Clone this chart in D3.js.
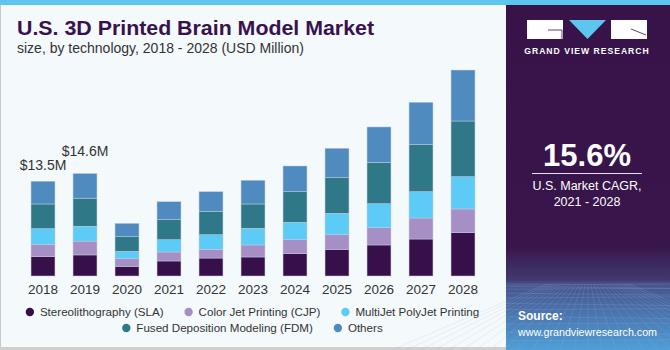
<!DOCTYPE html>
<html>
<head>
<meta charset="utf-8">
<script src="https://cdn.jsdelivr.net/npm/d3@7"></script>
<style>
  body { margin: 0; background: #fff; }
  svg { display: block; font-family: "Liberation Sans", Arial, sans-serif; }
</style>
</head>
<body>
<svg id="chart" width="670" height="350"></svg>
<script>
// data, USD million
var years = ["2018", "2019", "2020", "2021", "2022", "2023", "2024", "2025", "2026", "2027", "2028"];
var seriesNames = ["Stereolithography (SLA)", "Color Jet Printing (CJP)", "MultiJet PolyJet Printing",
                   "Fused Deposition Modeling (FDM)", "Others"];
var sla    = [2.75, 3.00, 1.38, 2.14, 2.56, 2.71, 3.18, 3.80, 4.42, 5.27, 6.17];
var cjp    = [1.71, 1.97, 1.08, 1.28, 1.24, 1.71, 1.99, 2.08, 2.46, 2.99, 3.38];
var mjp    = [2.28, 2.12, 1.05, 1.75, 2.08, 2.38, 2.48, 3.05, 3.42, 3.75, 4.60];
var fdm    = [3.52, 4.00, 2.08, 2.85, 3.28, 3.46, 4.36, 5.07, 5.90, 6.70, 7.93];
var others = [3.24, 3.51, 1.91, 2.56, 2.85, 3.38, 3.66, 4.19, 5.03, 6.04, 7.26];
var seriesColors = ["#37104a", "#a58fc4", "#5ccbf5", "#2f7888", "#4f8bbf"];
var valueLabels = [{year: "2018", text: "$13.5M"}, {year: "2019", text: "$14.6M"}];
var cagr = "15.6%";

var svg = d3.select("#chart");
var W = 670, H = 350;

// background
svg.append("rect").attr("width", W).attr("height", H).attr("fill", "#f4f9fc");
svg.append("rect").attr("x", 0).attr("y", 0).attr("width", 1).attr("height", H).attr("fill", "#c9c9c9");
svg.append("rect").attr("x", 0).attr("y", 347).attr("width", 506).attr("height", 3).attr("fill", "#cfcfcf");

// titles
svg.append("text").attr("x", 17).attr("y", 35)
    .attr("font-size", 20).attr("font-weight", "bold").attr("fill", "#39124d")
    .attr("textLength", 357).attr("lengthAdjust", "spacingAndGlyphs")
    .text("U.S. 3D Printed Brain Model Market");
svg.append("text").attr("x", 17).attr("y", 53)
    .attr("font-size", 14).attr("fill", "#333")
    .text("size, by technology, 2018 - 2028 (USD Million)");

// stack the series
var table = years.map(function (y, i) {
    return {year: y, s0: sla[i], s1: cjp[i], s2: mjp[i], s3: fdm[i], s4: others[i]};
});
var keys = ["s0", "s1", "s2", "s3", "s4"];
var stacked = d3.stack().keys(keys)(table);

var x = d3.scaleBand().domain(years).range([22, 484]).paddingInner(0.43).paddingOuter(0.215);
var y = d3.scaleLinear().domain([0, 30]).range([276, 65.4]);

var g = svg.append("g");
g.selectAll("g.layer")
    .data(stacked)
    .enter()
    .append("g")
    .attr("class", "layer")
    .attr("fill", function (d, i) { return seriesColors[i]; })
    .selectAll("rect")
    .data(function (d) { return d; })
    .enter()
    .append("rect")
    .attr("x", function (d) { return x(d.data.year); })
    .attr("y", function (d) { return y(d[1]); })
    .attr("width", x.bandwidth())
    .attr("height", function (d) { return y(d[0]) - y(d[1]); })
    .attr("stroke", "#c3cbe0")
    .attr("stroke-width", 0.5);

// year axis
var xAxis = svg.append("g").attr("transform", "translate(0,276)")
    .call(d3.axisBottom(x).tickSize(0).tickPadding(8));
xAxis.select(".domain").remove();
xAxis.selectAll("text").attr("font-size", 13.5).attr("fill", "#333")
    .attr("font-family", "Liberation Sans, Arial, sans-serif");

// value labels
var totals = table.map(function (d) { return d.s0 + d.s1 + d.s2 + d.s3 + d.s4; });
var labelLift = [11, 18];
valueLabels.forEach(function (l, i) {
    var idx = years.indexOf(l.year);
    svg.append("text")
        .attr("x", x(l.year) + x.bandwidth() / 2)
        .attr("y", y(totals[idx]) - labelLift[i])
        .attr("text-anchor", "middle")
        .attr("font-size", 14).attr("fill", "#333")
        .text(l.text);
});

// legend, two centered rows
var rows = [[0, 1, 2], [3, 4]];
var rowY = [312, 328];
rows.forEach(function (row, r) {
    var lg = svg.append("g");
    var cx = 0;
    row.forEach(function (si, k) {
        var item = lg.append("g").attr("transform", "translate(" + cx + ",0)");
        item.append("circle").attr("cx", 4).attr("cy", 0).attr("r", 4.2).attr("fill", seriesColors[si]);
        var t = item.append("text").attr("x", 14).attr("y", 4.2)
            .attr("font-size", 11.6).attr("fill", "#333").text(seriesNames[si]);
        cx += 14 + t.node().getComputedTextLength() + 21;
    });
    var width = cx - 21;
    lg.attr("transform", "translate(" + (252.5 - width / 2) + "," + rowY[r] + ")");
});

// right panel
var defs = svg.append("defs");
var grad = defs.append("linearGradient").attr("id", "panelGrad")
    .attr("x1", 0).attr("y1", 0).attr("x2", 0).attr("y2", 1);
grad.append("stop").attr("offset", "0").attr("stop-color", "#371349");
grad.append("stop").attr("offset", "0.7").attr("stop-color", "#38154b");
grad.append("stop").attr("offset", "0.8").attr("stop-color", "#41396f");
grad.append("stop").attr("offset", "0.81").attr("stop-color", "#47528a");
grad.append("stop").attr("offset", "1").attr("stop-color", "#4f9fd8");

var px = 506;
svg.append("rect").attr("x", px).attr("y", 0).attr("width", W - px).attr("height", H)
    .attr("fill", "url(#panelGrad)");

// faint perspective grid at panel bottom
var grid = svg.append("g").attr("stroke", "#9fb8e6").attr("stroke-opacity", 0.3)
    .attr("stroke-width", 0.6).attr("fill", "none");
var gridRows = d3.range(0, 12);
gridRows.forEach(function (k) {
    var yy = 285 + Math.pow(k / 11, 1.6) * 65;
    grid.append("line").attr("x1", px).attr("x2", W).attr("y1", yy).attr("y2", yy + (k % 2 ? 2 : -1));
});
d3.range(-14, 15).forEach(function (k) {
    grid.append("line").attr("x1", 588 + k * 3).attr("y1", 284).attr("x2", 588 + k * 14).attr("y2", 350);
});

// top strip
svg.append("rect").attr("x", 0).attr("y", 0).attr("width", W).attr("height", 5).attr("fill", "#5cc6ee");

// logo
var logo = svg.append("g");
logo.append("rect").attr("x", 527).attr("y", 20).attr("width", 36).attr("height", 19).attr("fill", "#fff");
logo.append("path").attr("d", "M548,30 H562 V39").attr("stroke", "#371349").attr("stroke-width", 0.8).attr("fill", "none");
logo.append("path").attr("d", "M569,20 L606,20 L587.5,39 Z").attr("fill", "#5cc6ee");
logo.append("rect").attr("x", 611).attr("y", 20).attr("width", 36).attr("height", 19).attr("fill", "#fff");
logo.append("path").attr("d", "M631,29 L646,35").attr("stroke", "#371349").attr("stroke-width", 0.8);
logo.append("text").attr("x", 587).attr("y", 54).attr("text-anchor", "middle")
    .attr("font-size", 8.6).attr("font-weight", "bold").attr("fill", "#fff")
    .attr("letter-spacing", 1).text("GRAND VIEW RESEARCH");

// cagr
svg.append("text").attr("x", 587).attr("y", 166).attr("text-anchor", "middle")
    .attr("font-size", 31).attr("font-weight", "bold").attr("fill", "#fff").text(cagr);
svg.append("line").attr("x1", 532).attr("x2", 642).attr("y1", 173.5).attr("y2", 173.5)
    .attr("stroke", "#e8e0ee").attr("stroke-width", 1);
svg.append("text").attr("x", 587).attr("y", 190).attr("text-anchor", "middle")
    .attr("font-size", 12.5).attr("fill", "#fff").text("U.S. Market CAGR,");
svg.append("text").attr("x", 587).attr("y", 206).attr("text-anchor", "middle")
    .attr("font-size", 12.5).attr("fill", "#fff").text("2021 - 2028");

// source
svg.append("text").attr("x", 518).attr("y", 320)
    .attr("font-size", 12).attr("font-weight", "bold").attr("fill", "#fff").text("Source:");
svg.append("text").attr("x", 518).attr("y", 336)
    .attr("font-size", 10.7).attr("fill", "#fff")
    .text("www.grandviewresearch.com");
</script>
</body>
</html>
